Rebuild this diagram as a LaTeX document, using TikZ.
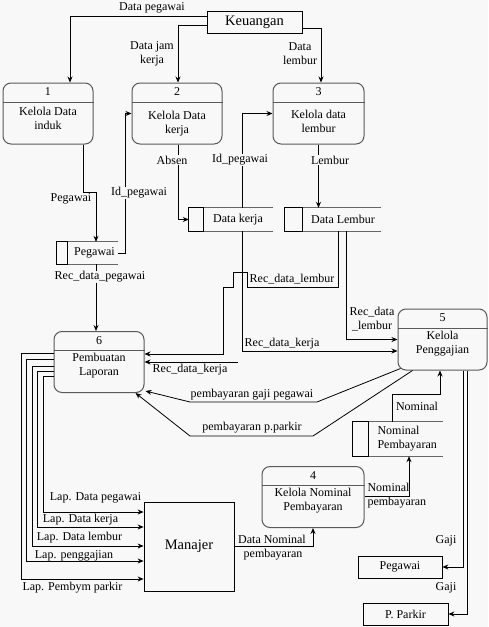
\documentclass[tikz,border=0pt]{standalone}
\usepackage{fontspec}
\setmainfont{Liberation Serif}
\usetikzlibrary{arrows.meta}
\definecolor{bgabu}{HTML}{F8F8F8}
\tikzset{>={Stealth[length=6pt,width=5pt]}}

\begin{document}
\begin{tikzpicture}[x=1pt, y=-1pt, font=\fontsize{12}{14}\selectfont,
    proses/.style={draw=black!65, line width=1pt, rounded corners=8pt, minimum height=61pt, inner sep=0pt},
    entitas/.style={draw, line width=0.8pt, inner sep=0pt, minimum height=22pt},
    simpan/.style={inner sep=0pt, minimum height=23pt},
    alur/.style={->, line width=0.8pt},
    ket/.style={fill=bgabu, inner sep=1pt}]
    \fill[bgabu] (0,0) rectangle (488,627);
    \useasboundingbox (0,0) rectangle (488,627);

    % proses
    \foreach \n/\px/\py/\w/\s/\isi in {1/48/113.5/90/4.5/{Kelola Data\\induk}, 2/177/113.5/90/10.5/{Kelola Data\\kerja}, 3/318.5/113.5/91/7.5/{Kelola data\\lembur}, 4/313/497/102/4/{Kelola Nominal\\Pembayaran}, 5/442.5/339.5/89/4/{Kelola\\Penggajian}, 6/99/362/90/3.5/{Pembuatan\\Laporan}} {
        \node[proses, minimum width=\w pt] (p\n) at (\px,\py) {};
        \draw[black!65, line width=1pt] ([yshift=-19.5pt]p\n.north west) -- ([yshift=-19.5pt]p\n.north east);
        \node (p\n no) at ([yshift=-9.5pt]p\n.north) {\n};
        \node[align=center] (p\n isi) at ([yshift=-\s pt]p\n.center) {\isi};
    }

    % entitas luar
    \node[entitas, minimum width=95pt, font=\fontsize{14.5}{16}\selectfont] (keu) at (254.5,22) {Keuangan};
    \node[entitas, minimum width=90pt, minimum height=89pt, font=\fontsize{14.5}{16}\selectfont] (mgr) at (189,546.5) {Manajer};
    \node[entitas, minimum width=84pt] (peg) at (400,567) {Pegawai};
    \node[entitas, minimum width=85pt] (park) at (405.5,614) {P. Parkir};

    % penyimpanan
    \node[simpan, minimum width=61pt, minimum height=22pt] (spg) at (87.5,253) {};
    \node[simpan, minimum width=84pt] (sdk) at (231,219.5) {};
    \node[simpan, minimum width=96pt] (sdl) at (333,219.5) {};
    \node[simpan, minimum width=90pt, minimum height=34pt] (snp) at (398,439) {};
    \foreach \st/\b in {spg/11, sdk/15, sdl/18, snp/16} {
        \draw[black!60, line width=1.2pt] (\st.north west) -- (\st.north east) (\st.south west) -- (\st.south east);
        \draw[line width=0.8pt] (\st.north west) rectangle ([xshift=\b pt]\st.south west);
    }
    \node (spgisi) at (94.5,253) {Pegawai};
    \node (sdkisi) at (238,219.5) {Data kerja};
    \node (sdlisi) at (343,219.5) {Data Lembur};
    \node[align=left, anchor=west] (snpisi) at (374,439) {Nominal\\Pembayaran};

    % alur data
    \draw[alur] ([yshift=6pt]keu.west) -| ([xshift=22pt]p1.north);
    \node (lbdp) at (152,8) {Data pegawai};
    \draw[alur] ([yshift=-3pt]keu.west) -| ([xshift=1pt]p2.north);
    \node[align=center] (lbdjk) at (152,54) {Data jam\\kerja};
    \draw[alur] ([yshift=-6pt]keu.east) -| ([xshift=2.5pt]p3.north);
    \node[align=center] (lbdl) at (300,54) {Data\\lembur};

    \draw[alur] ([xshift=35pt]p1.south) -- ++(0,48) -| ([xshift=8.5pt]spg.north);
    \node (lbpg) at (71,199) {Pegawai};
    \draw[alur] (spg.east) -- ++(7,0) |- (p2.west);
    \node[ket] (lbid1) at (139,193) {Id\_pegawai};
    \draw[alur] ([xshift=1pt]p2.south) |- (sdk.west);
    \node[ket] (lbabs) at (172,160) {Absen};
    \draw[alur] ([xshift=11pt]sdk.north) |- (p3.west);
    \node[ket] (lbid2) at (240,160) {Id\_pegawai};
    \draw[alur] (p3.south) -- (p3.south |- sdl.north);
    \node[ket] (lblb) at (330,160) {Lembur};

    \draw[alur] ([xshift=11pt]sdk.south) |- ([yshift=-11.5pt]p5.west);
    \node (lbrdk1) at (282,344) {Rec\_data\_kerja};
    \draw[alur] ([xshift=13pt]sdl.south) |- (p5.west);
    \node[align=center] (lbrdl1) at (372,319) {Rec\_data\\\_lembur};
    \draw[alur] ([xshift=5pt]sdl.south) |- (247,287) |- (233,272) |- (223,287) |- ([yshift=8pt]p6.east);
    \node (lbrdl2) at (292,279) {Rec\_data\_lembur};
    \coordinate (rdk) at (238,362);
    \draw[alur] (rdk) -- (p6.east);
    \node (lbrdk2) at (190,370) {Rec\_data\_kerja};
    \draw[alur] ([xshift=8.5pt]spg.south) -- ([xshift=-3pt]p6.north);
    \node[ket] (lbrdp) at (100,277) {Rec\_data\_pegawai};

    \draw[alur] ([xshift=3pt,yshift=2pt]p5.south west) -- (317,402) -- (190,402) -- ([xshift=1pt,yshift=2pt]p6.south east);
    \node (lbgaji) at (252,395) {pembayaran gaji pegawai};
    \draw[alur] ([xshift=15pt]p5.south west) -- (313,436) -- (190,436) -- ([xshift=-9pt]p6.south east);
    \node (lbpkr) at (252,428) {pembayaran p.parkir};

    \foreach \ya/\xa/\yb/\lx/\ly/\isi in {376/43/512/95.5/498/{Lap. Data pegawai}, 371/37/527/80.5/520/{Lap. Data kerja}, 366/32/546/79.5/538/{Lap. Data lembur}, 359/26/561/74/556/{Lap. penggajian}, 353/21/579/72.5/588/{Lap. Pembym parkir}} {
        \draw[alur] (p6.west |- 0,\ya) -| (\xa,\yb) -- (mgr.west |- 0,\yb);
        \node (lap\xa) at (\lx,\ly) {\isi};
    }

    \draw[alur] (mgr.east) -| (p4.south);
    \node (lbdn) at (272,539) {Data Nominal};
    \node (lbdn2) at (273,555) {pembayaran};
    \draw[alur] ([yshift=1pt]p4.east) -| ([xshift=11pt]snp.south);
    \node[align=left, anchor=west] (lbnp) at (364,496) {Nominal\\pembayaran};
    \draw[alur] ([xshift=-6pt]snp.north) |- ++(48,-27) -- ([xshift=-2.5pt]p5.south);
    \node (lbnom) at (417,406) {Nominal};

    \draw[alur] ([xshift=21pt]p5.south) |- (peg.east);
    \node (lbgj1) at (446,541) {Gaji};
    \draw[alur] ([xshift=24.5pt]p5.south) |- (park.east);
    \node (lbgj2) at (446,588) {Gaji};
\end{tikzpicture}
\end{document}
